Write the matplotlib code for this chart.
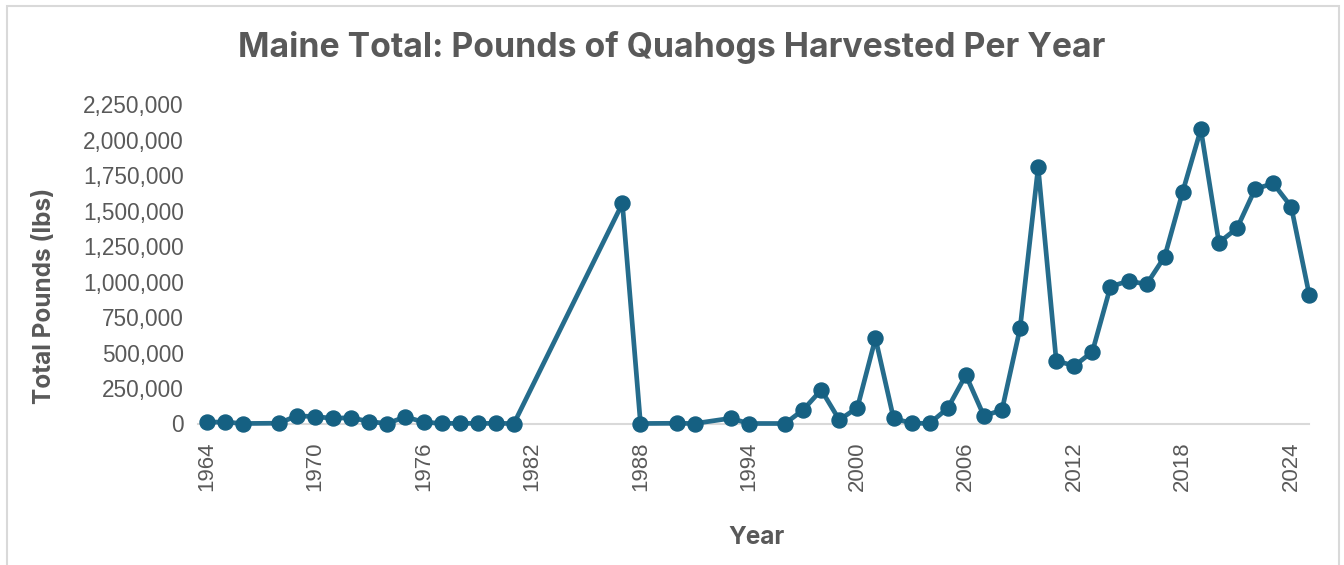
import matplotlib
matplotlib.use("Agg")
import matplotlib.pyplot as plt
from matplotlib.patches import Rectangle

years = [1964, 1965, 1966, 1968, 1969, 1970, 1971, 1972, 1973, 1974, 1975,
         1976, 1977, 1978, 1979, 1980, 1981, 1987, 1988, 1990, 1991, 1993,
         1994, 1996, 1997, 1998, 1999, 2000, 2001, 2002, 2003, 2004, 2005,
         2006, 2007, 2008, 2009, 2010, 2011, 2012, 2013, 2014, 2015, 2016,
         2017, 2018, 2019, 2020, 2021, 2022, 2023, 2024, 2025]
pounds = [10000, 10000, 0, 2000, 55000, 48000, 37000, 41000, 13000, 0, 48000,
          9000, 1000, 1000, 1000, 1000, 0, 1552000, 0, 1500, 0, 37000,
          0, 0, 96000, 237000, 25000, 112000, 601000, 37000, 1500, 1500, 108000,
          342000, 53000, 96000, 672000, 1808000, 443000, 406000, 506000, 965000, 1006000, 982000,
          1177000, 1636000, 2075000, 1276000, 1377000, 1653000, 1694000, 1529000, 906000]
x_ticks = list(range(1964, 2025, 6))
y_ticks = [0, 250000, 500000, 750000, 1000000, 1250000, 1500000, 1750000, 2000000, 2250000]

W, H = 1344, 565
fig = plt.figure(figsize=(W / 100, H / 100), dpi=100)
fig.patch.set_facecolor("white")

left_px, right_px = 197.6, 1309.3
top_px, bottom_px = 104.5, 423.5
ax = fig.add_axes([left_px / W, 1 - bottom_px / H,
                   (right_px - left_px) / W, (bottom_px - top_px) / H])

line_color = "#256C8C"
marker_color = "#156082"
text_color = "#595959"

ax.plot(years, pounds, color=line_color, linewidth=3.4, marker="o",
        markersize=10.8, markerfacecolor=marker_color, markeredgecolor=marker_color,
        clip_on=False, zorder=3, solid_joinstyle="round")

ax.set_xlim(1963.5, 2025)
ax.set_ylim(0, 2250000)
ax.set_xticks(x_ticks)
ax.set_xticklabels([str(y) for y in x_ticks], rotation=90, family="Liberation Sans",
                   fontsize=16, color=text_color)
ax.set_yticks(y_ticks)
ax.set_yticklabels([f"{v:,}" for v in y_ticks], family="Liberation Sans",
                   fontsize=16.3, color=text_color)
ax.tick_params(axis="x", length=0, pad=13)
ax.tick_params(axis="y", length=0, pad=10)
for s in ["top", "right", "left"]:
    ax.spines[s].set_visible(False)
ax.spines["bottom"].set_color("#D9D9D9")
ax.spines["bottom"].set_linewidth(1.5)
ax.spines["bottom"].set_zorder(1)

fig.text(672 / W, 1 - 48 / H, "Maine Total: Pounds of Quahogs Harvested Per Year",
         ha="center", va="center", fontsize=24.3, fontweight="bold", family="Inter",
         color=text_color)
fig.text(45 / W, 1 - 295.5 / H, "Total Pounds (lbs)", rotation=90, ha="center",
         va="center", fontsize=17.5, fontweight="bold", family="Inter", color=text_color)
fig.text(757 / W, 1 - 537 / H, "Year", ha="center", va="center", fontsize=17.5,
         fontweight="bold", family="Inter", color=text_color)

fig.patches.append(Rectangle((7 / W, -0.05), (1339 - 7) / W, 1.05 - 6 / H,
                             transform=fig.transFigure, fill=False,
                             edgecolor="#D9D9D9", linewidth=1.5))

fig.savefig("out.png", dpi=100, facecolor="white")
